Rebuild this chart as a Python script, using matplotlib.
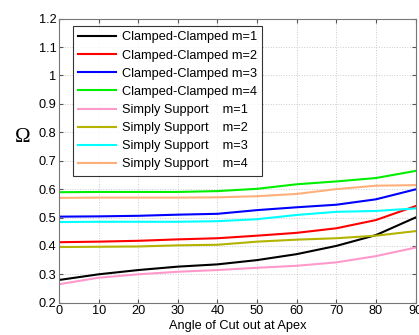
import matplotlib
matplotlib.use("Agg")
import matplotlib.pyplot as plt

angles = [0, 10, 20, 30, 40, 50, 60, 70, 80, 90]

cc_m1 = [0.280, 0.300, 0.315, 0.327, 0.335, 0.350, 0.371, 0.400, 0.438, 0.500]
cc_m2 = [0.413, 0.415, 0.418, 0.423, 0.427, 0.436, 0.446, 0.462, 0.491, 0.540]
cc_m3 = [0.503, 0.504, 0.506, 0.510, 0.513, 0.526, 0.536, 0.545, 0.564, 0.599]
cc_m4 = [0.589, 0.590, 0.590, 0.590, 0.593, 0.601, 0.617, 0.627, 0.639, 0.664]
ss_m1 = [0.265, 0.288, 0.300, 0.309, 0.315, 0.323, 0.330, 0.342, 0.364, 0.394]
ss_m2 = [0.396, 0.397, 0.398, 0.402, 0.404, 0.415, 0.422, 0.427, 0.436, 0.452]
ss_m3 = [0.484, 0.485, 0.485, 0.485, 0.487, 0.494, 0.509, 0.520, 0.523, 0.532]
ss_m4 = [0.569, 0.570, 0.570, 0.570, 0.571, 0.575, 0.583, 0.600, 0.612, 0.614]

labels = ["Clamped-Clamped m=1", "Clamped-Clamped m=2", "Clamped-Clamped m=3",
          "Clamped-Clamped m=4", "Simply Support    m=1", "Simply Support    m=2",
          "Simply Support    m=3", "Simply Support    m=4"]
series = [cc_m1, cc_m2, cc_m3, cc_m4, ss_m1, ss_m2, ss_m3, ss_m4]
colors = ["#000000", "#ff0000", "#0000ff", "#00ee00",
          "#ff99cc", "#b3b300", "#00ffff", "#ffb07a"]

yticks = [0.2, 0.3, 0.4, 0.5, 0.6, 0.7, 0.8, 0.9, 1.0, 1.1, 1.2]
ytick_labels = ["0.2", "0.3", "0.4", "0.5", "0.6", "0.7", "0.8", "0.9", "1", "1.1", "1.2"]
xticks = [0, 10, 20, 30, 40, 50, 60, 70, 80, 90]

plt.rcParams['font.family'] = ['Liberation Sans', 'DejaVu Sans']

fig = plt.figure(figsize=(4.19, 3.35), dpi=100)
ax = fig.add_axes([0.141, 0.0964, 0.8507, 0.8478])

for s, c, l in zip(series, colors, labels):
    ax.plot(angles, s, color=c, lw=1.5, label=l)

ax.set_xlim(0, 90)
ax.set_ylim(0.2, 1.2)
ax.set_xticks(xticks)
ax.set_yticks(yticks)
ax.set_yticklabels(ytick_labels)
ax.tick_params(direction='in', length=3, labelsize=9.2, top=True, right=True,
               color='#555555', pad=2)
for sp in ax.spines.values():
    sp.set_color('#777777')
    sp.set_linewidth(0.8)
ax.grid(True, linestyle=':', color='#cccccc', lw=0.7)

ax.set_xlabel("Angle of Cut out at Apex", fontsize=9.2, labelpad=2)
fig.text(23/419, 1 - 137.5/335, "Ω", family=['Liberation Serif'], fontsize=15,
         ha='center', va='center')

leg = ax.legend(loc='upper left', bbox_to_anchor=(0.039, 0.973), fontsize=9.2,
                frameon=True, fancybox=False, handlelength=3.0, handletextpad=0.45,
                labelspacing=0.48, borderpad=0.4, borderaxespad=0)
leg.get_frame().set_edgecolor('#000000')
leg.get_frame().set_linewidth(0.8)

fig.savefig("out.png", dpi=100)
